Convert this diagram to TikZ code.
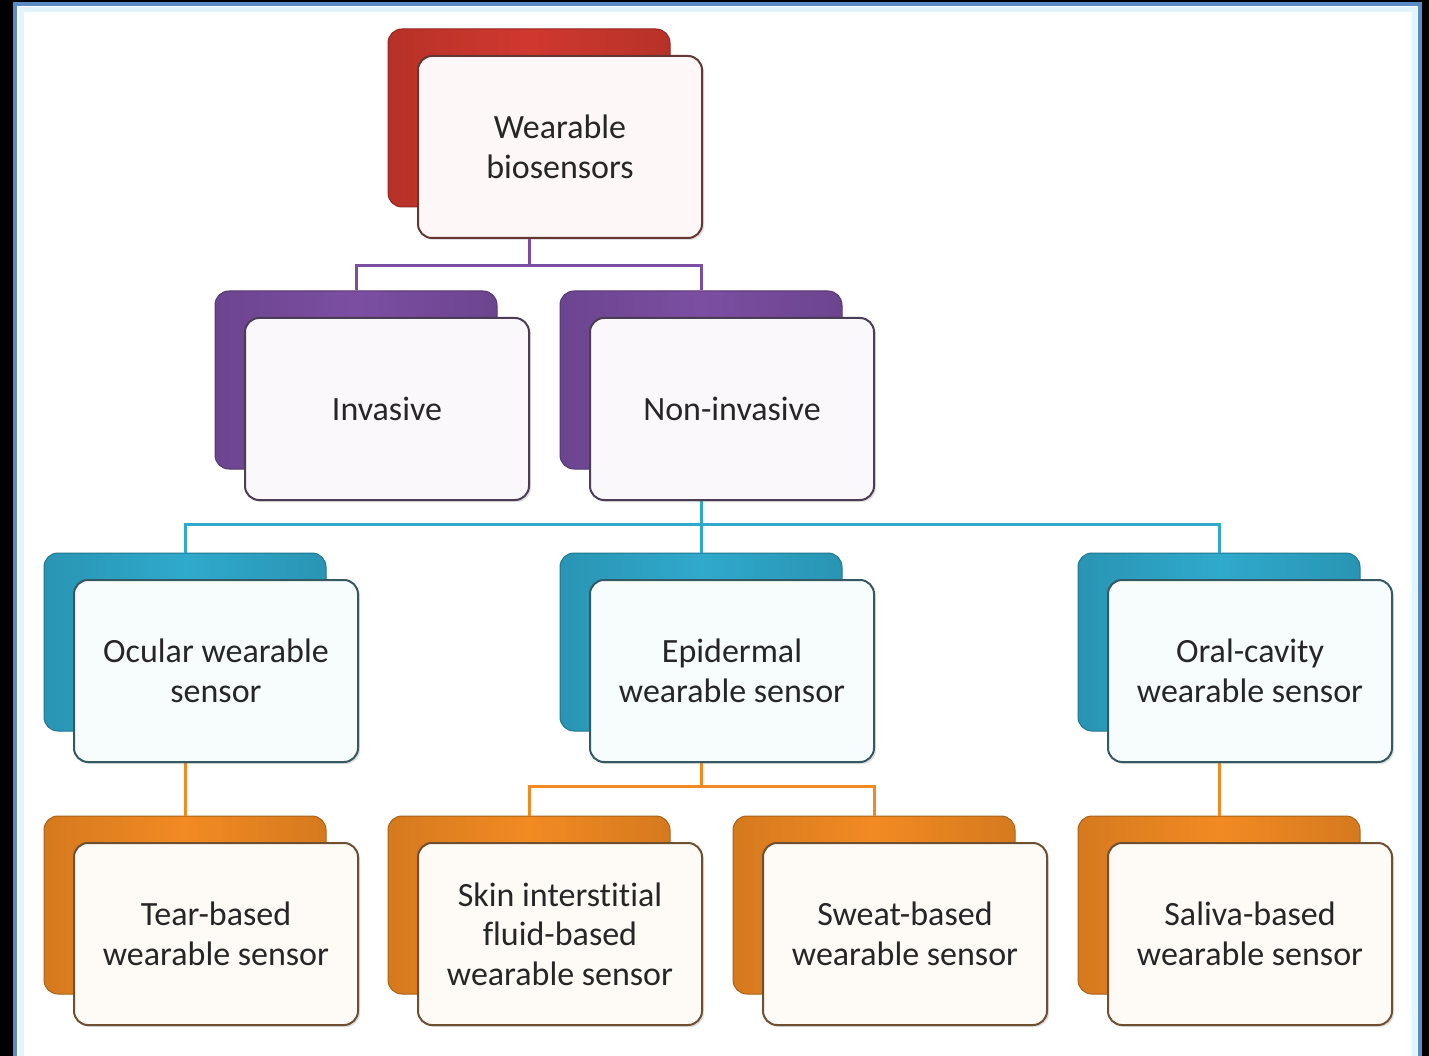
\documentclass[tikz,border=0pt]{standalone}
\usepackage{fontspec}
\setmainfont[Ligatures=NoCommon]{Carlito}
\usetikzlibrary{positioning,shadows}

\definecolor{topred}{HTML}{D0382E}
\definecolor{kindpurple}{HTML}{7B4EA2}
\definecolor{sitecyan}{HTML}{2FA9CC}
\definecolor{fluidorange}{HTML}{F28A22}
\definecolor{frameblue}{HTML}{5A8CC8}

\tikzset{
  backbox/.style={rounded corners=14pt, minimum width=282pt, minimum height=178pt,
    left color=#1!88!black, right color=#1!88!black, middle color=#1,
    draw=#1!70!black, line width=1pt},
  frontbox/.style={rounded corners=14pt, minimum width=284pt, minimum height=182pt,
    fill=#1!4!white, draw=#1!35!black!85, line width=2pt,
    drop shadow={shadow xshift=2pt, shadow yshift=-2pt, opacity=.25},
    align=center, text=black!85, font=\fontsize{34}{39.5}\selectfont},
  link/.style={line width=3pt, draw=#1},
}

\begin{document}
\begin{tikzpicture}[x=1pt, y=-1pt]
  % Frame
  \useasboundingbox (0,0) rectangle (1429,1056);
  \fill[black] (0,0) rectangle (1429,1056);
  \fill[white] (15,4) rectangle (1420,1060);
  \draw[frameblue, line width=4pt] (15,1060) -- (15,4) -- (1420,4) -- (1420,1060);
  \draw[cyan!12, line width=5pt] (21,1060) -- (21,10) -- (1414,10) -- (1414,1060);

  % back boxes
  \foreach \name/\x/\y/\col in {top/529/118/topred,
      inv/356/380/kindpurple, non/701/380/kindpurple,
      ocu/185/642/sitecyan, epi/701/642/sitecyan, ora/1219/642/sitecyan,
      tear/185/905/fluidorange, skin/529/905/fluidorange,
      sweat/874/905/fluidorange, saliva/1219/905/fluidorange}
    \node[backbox=\col] (\name-b) at (\x,\y) {};

  % connectors
  \draw[link=kindpurple] (top-b.south) -- ++(0,58) coordinate (j1) -| (inv-b.north);
  \draw[link=kindpurple] (j1) -| (non-b.north);
  \draw[link=sitecyan] (non-b.south) -- ++(0,55) coordinate (j2) -| (ocu-b.north);
  \draw[link=sitecyan] (j2) -- (epi-b.north);
  \draw[link=sitecyan] (j2) -| (ora-b.north);
  \draw[link=fluidorange] (ocu-b.south) -- (tear-b.north);
  \draw[link=fluidorange] (epi-b.south) -- ++(0,55) coordinate (j3) -| (skin-b.north);
  \draw[link=fluidorange] (j3) -| (sweat-b.north);
  \draw[link=fluidorange] (ora-b.south) -- (saliva-b.north);

  % front boxes
  \foreach \name/\col/\txt in {top/topred/{Wearable\\biosensors},
      inv/kindpurple/{Invasive}, non/kindpurple/{Non-invasive},
      ocu/sitecyan/{Ocular wearable\\sensor},
      epi/sitecyan/{Epidermal\\wearable sensor},
      ora/sitecyan/{Oral-cavity\\wearable sensor},
      tear/fluidorange/{Tear-based\\wearable sensor},
      skin/fluidorange/{Skin interstitial\\fluid-based\\wearable sensor},
      sweat/fluidorange/{Sweat-based\\wearable sensor},
      saliva/fluidorange/{Saliva-based\\wearable sensor}}
    \node[frontbox=\col] (\name) at ([shift={(31,29)}]\name-b) {\txt};
\end{tikzpicture}
\end{document}
